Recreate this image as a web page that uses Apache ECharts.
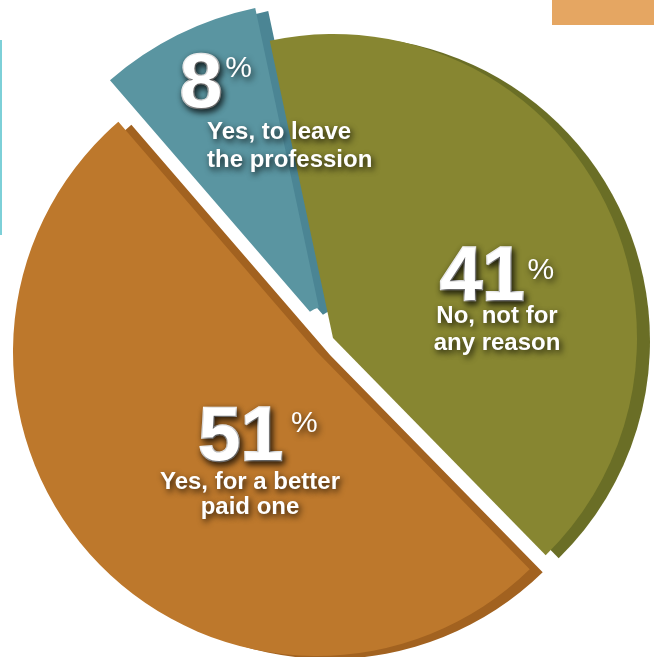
<!DOCTYPE html>
<html>
<head>
<meta charset="utf-8">
<script src="https://cdn.jsdelivr.net/npm/echarts@6/dist/echarts.min.js"></script>
<style>
html,body{margin:0;padding:0;background:#fff;}
#chart{width:654px;height:657px;}
</style>
</head>
<body>
<div id="chart"></div>
<script>
// ---- data ----
const categories = ['No, not for any reason', 'Yes, for a better paid one', 'Yes, to leave the profession'];
const values = [41, 51, 8];
const captionLines = [['No, not for', 'any reason'], ['Yes, for a better', 'paid one'], ['Yes, to leave', 'the profession']];

// ---- styles ----
const faceColors = ['#878631', '#bd782c', '#5a95a1'];
const sideColors = ['#6a6e26', '#a26220', '#4b8594'];
const centers = [[333, 338], [317, 352], [323, 327]];
const radii = [[0, 304], [0, 304], [20, 326]];
const depth = [13, 3];
const labelPos = [
  {x: 497, y: 255.5, align: 'center'},
  {x: 250, y: 408.5, align: 'center'},
  {x: 180, y: 53.5, align: 'left'}
];
const numLH = [47, 61, 65];
const pctLH = [25, 43, 57];
const txtLH = [27, 25, 28];
const numPad = [[0, 0, 0, 0], [0, 0, 0, 16], [0, 0, 0, 0]];
const pctPad = [[0, 0, 0, 3], [0, 0, 0, 8], [0, 0, 0, 3]];

const chart = echarts.init(document.getElementById('chart'), null, {renderer: 'canvas'});

const shadowText = {
  textShadowColor: 'rgba(0,0,0,0.8)',
  textShadowBlur: 6,
  textShadowOffsetX: 2,
  textShadowOffsetY: 3
};
const FONT = 'Liberation Sans, Arial, sans-serif';

function makeSeries(i, isSide) {
  const c = isSide ? [centers[i][0] + depth[0], centers[i][1] + depth[1]] : centers[i];
  return {
    type: 'pie',
    silent: true,
    center: c,
    radius: radii[i],
    startAngle: 102,
    clockwise: true,
    avoidLabelOverlap: false,
    labelLine: {show: false},
    emphasis: {disabled: true},
    z: isSide ? 1 : 2,
    data: values.map((v, j) => ({
      name: categories[j],
      value: v,
      itemStyle: {color: j === i ? (isSide ? sideColors[i] : faceColors[i]) : 'rgba(0,0,0,0)'},
      label: {show: !isSide && j === i}
    })),
    label: {
      position: 'inside',
      color: '#fff',
      fontFamily: FONT,
      formatter: (p) => {
        const lines = captionLines[p.dataIndex].map(t => '{txt|' + t + '}').join('\n');
        return '{num|' + p.value + '}{pct|%}\n' + lines;
      },
      rich: {
        num: Object.assign({fontSize: 76, fontWeight: 'bold', color: '#fff', lineHeight: numLH[i],
          padding: numPad[i], textBorderColor: '#fff', textBorderWidth: 2.5, fontFamily: FONT}, shadowText),
        pct: Object.assign({fontSize: 30, fontWeight: 'normal', color: '#fff', lineHeight: pctLH[i], verticalAlign: 'top',
          padding: pctPad[i], fontFamily: FONT}, shadowText),
        txt: Object.assign({fontSize: 24, fontWeight: 'bold', color: '#fff', lineHeight: txtLH[i],
          padding: i === 2 ? [0, 0, 0, 27] : 0, fontFamily: FONT}, shadowText)
      }
    },
    labelLayout: (p) => {
      const lp = labelPos[p.dataIndex];
      return {x: lp.x, y: lp.y, align: lp.align, verticalAlign: 'top'};
    }
  };
}

const series = [];
for (let i = 0; i < values.length; i++) series.push(makeSeries(i, true));
for (let i = 0; i < values.length; i++) series.push(makeSeries(i, false));

chart.setOption({
  animation: false,
  backgroundColor: '#ffffff',
  graphic: [
    {type: 'rect', left: 552, top: 0, shape: {width: 102, height: 25}, style: {fill: '#e5a662'}, z: 10},
    {type: 'rect', left: 0, top: 40, shape: {width: 2, height: 195}, style: {fill: '#7dd0d8'}, z: 10}
  ],
  series: series
});
</script>
</body>
</html>
